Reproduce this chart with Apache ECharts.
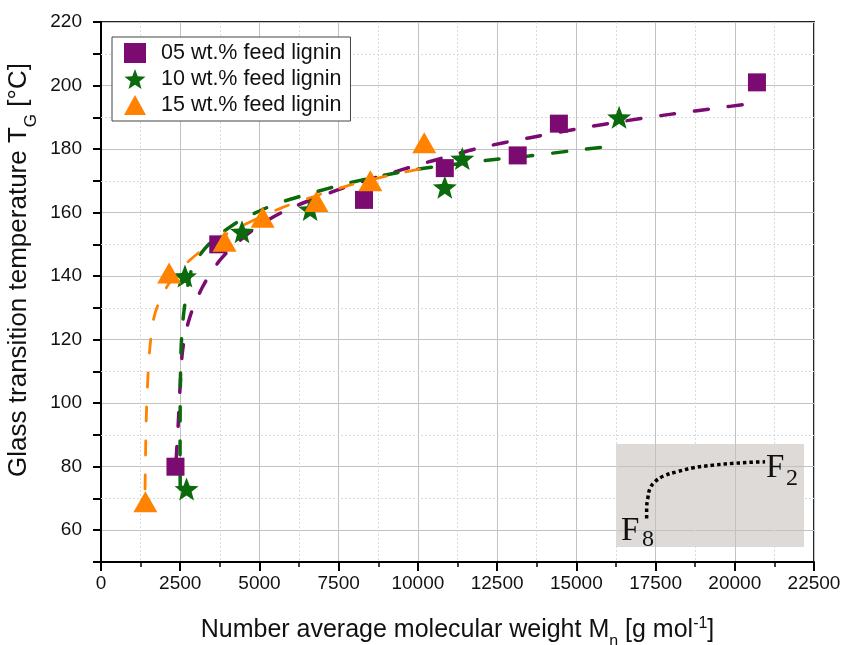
<!DOCTYPE html>
<html>
<head>
<meta charset="utf-8">
<script src="https://cdn.jsdelivr.net/npm/echarts@6/dist/echarts.min.js"></script>
<style>
  html, body { margin: 0; padding: 0; background: #fff; }
  #chart { width: 845px; height: 645px; }
</style>
</head>
<body>
<div id="chart"></div>
<script>
  // series names
  const seriesNames = ['05 wt.% feed lignin', '10 wt.% feed lignin', '15 wt.% feed lignin']

  // measured points
  const mn05 = [2350, 3700, 8300, 10850, 13150, 14450, 20700]
  const tg05 = [80, 150, 164, 174, 178, 188, 201]
  const mn10 = [2700, 2650, 4450, 6600, 10850, 11400, 16350]
  const tg10 = [73, 140, 154, 161, 168, 177, 190]
  const mn15 = [1400, 2150, 3900, 5100, 6800, 8500, 10200]
  const tg15 = [69, 141, 151, 158.5, 163.5, 170, 182]

  // fitted curves
  const fitMn05 = [2370, 2440, 2495, 2580, 2800, 3200, 3750, 4300, 5000, 5900, 6900, 8000, 9000, 10000, 11000, 12000, 13500, 15000, 16500, 18000, 19500, 20300]
  const fitTg05 = [82, 94, 105, 117, 127, 136.5, 145, 150.5, 156, 161, 165, 169, 172, 175, 177.8, 180.5, 183.5, 186.3, 188.8, 191, 193, 194]
  const fitMn10 = [2500, 2495, 2500, 2520, 2560, 2630, 2800, 3000, 3500, 4300, 5000, 5600, 6600, 7700, 8800, 9900, 11000, 12200, 13500, 14800, 16000]
  const fitTg10 = [73, 85, 100, 115, 123, 130, 140, 145, 151, 157, 160.5, 163, 166, 169, 171.5, 173.5, 175, 176.5, 177.8, 179.4, 180.8]
  const fitMn15 = [1390, 1400, 1420, 1460, 1530, 1650, 1800, 2100, 2400, 2800, 3300, 4000, 4800, 5700, 6700, 7800, 9000, 10200]
  const fitTg15 = [73, 80, 92, 104, 116, 126, 131, 137, 141, 145, 149, 153.5, 157.5, 161.5, 165, 168.5, 171.5, 174]

  // inset sketch (relative units 0..100)
  const insetX = [16.3, 16.3, 16.9, 18.1, 20.7, 25.2, 32.3, 41.1, 51.8, 62.4, 71.3, 79.3]
  const insetY = [27.7, 37.4, 47.1, 56.9, 63.3, 68.9, 73.0, 76.9, 79.5, 81.2, 82.2, 82.7]

  // axis ticks
  const yMinorTicks = [70, 90, 110, 130, 150, 170, 190, 210]

  const colors = ['#7b0a71', '#0b6a0b', '#ff8200']
  const starPath = 'path://M50 0 L62.34 33.01 L97.55 34.55 L69.97 56.49 L79.39 90.45 L50 71 L20.61 90.45 L30.03 56.49 L2.45 34.55 L37.66 33.01 Z'

  const zip = (xs, ys) => xs.map((x, i) => [x, ys[i]])

  const fitLine = (data, color, width) => ({
    type: 'line',
    data: data,
    smooth: 0.3,
    symbol: 'none',
    silent: true,
    z: 3,
    lineStyle: { color: color, width: width, type: [14, 20], cap: 'round' }
  })

  const chart = echarts.init(document.getElementById('chart'))

  const serifFont = '"Liberation Serif", "DejaVu Serif", serif'

  const option = {
    animation: false,
    textStyle: { fontFamily: 'Liberation Sans, Arial, sans-serif', color: '#111' },
    grid: [
      { left: 101, right: 31, top: 22, bottom: 83, show: true, borderColor: '#222', borderWidth: 2, outerBoundsMode: 'none', containLabel: false },
      { left: 616, top: 444, width: 188, height: 103, show: true, backgroundColor: 'rgba(190,182,178,0.5)', borderWidth: 0, z: -1, outerBoundsMode: 'none' }
    ],
    legend: {
      orient: 'vertical',
      left: 112,
      top: 37,
      padding: [5, 9, 5, 12],
      itemGap: 4,
      itemWidth: 22,
      itemHeight: 20,
      borderColor: '#444',
      borderWidth: 1,
      backgroundColor: '#fff',
      textStyle: { fontSize: 21.5, color: '#111', padding: [0, 0, 0, 10] },
      data: seriesNames
    },
    xAxis: [
      {
        type: 'value',
        min: 0,
        max: 22500,
        interval: 2500,
        name: 'Number average molecular weight M{sub|n} [g mol{sup|-1}]',
        nameLocation: 'middle',
        nameGap: 54,
        nameTextStyle: {
          fontSize: 25, color: '#111', lineHeight: 28,
          rich: {
            sub: { fontSize: 16, verticalAlign: 'bottom', lineHeight: 14, padding: [0, 0, -6, 0] },
            sup: { fontSize: 16, verticalAlign: 'top', lineHeight: 14, padding: [0, 0, 8, 0] }
          }
        },
        axisLine: { lineStyle: { color: '#000', width: 2 } },
        axisTick: { inside: false, length: 9, lineStyle: { color: '#000', width: 2 } },
        minorTick: { show: true, splitNumber: 2, length: 5, lineStyle: { color: '#000', width: 1.5 } },
        axisLabel: { fontSize: 19, color: '#111', margin: 12, formatter: v => String(v) },
        splitLine: { show: true, lineStyle: { color: '#c2c2c2', width: 1 } },
        minorSplitLine: { show: true, lineStyle: { color: '#dadada', width: 1, type: [2, 2] } }
      },
      { gridIndex: 1, type: 'value', min: 0, max: 100, show: false }
    ],
    yAxis: [
      {
        type: 'value',
        min: 50,
        max: 220,
        interval: 10,
        name: 'Glass transition temperature T{sub|G} [°C]',
        nameLocation: 'middle',
        nameGap: 52,
        nameTextStyle: {
          fontSize: 26, color: '#111', lineHeight: 30, padding: [0, 0, 0, 44],
          rich: {
            sub: { fontSize: 17, verticalAlign: 'bottom', lineHeight: 14, padding: [0, 0, -6, 0] }
          }
        },
        axisLine: { lineStyle: { color: '#000', width: 2 } },
        axisTick: { inside: false, length: 8, lineStyle: { color: '#000', width: 2 } },
        axisLabel: {
          fontSize: 19, color: '#111', margin: 19,
          formatter: v => (v % 20 === 0 ? String(v) : '')
        },
        splitLine: { show: true, lineStyle: { color: ['rgba(0,0,0,0)', '#c2c2c2'], width: 1 } }
      },
      { gridIndex: 1, type: 'value', min: 0, max: 100, show: false }
    ],
    graphic: [
      { type: 'text', left: 766, top: 452, z: 10, style: { text: 'F', font: '33px ' + serifFont, fill: '#111' } },
      { type: 'text', left: 786, top: 467, z: 10, style: { text: '2', font: '24px ' + serifFont, fill: '#111' } },
      { type: 'text', left: 621, top: 515, z: 10, style: { text: 'F', font: '33px ' + serifFont, fill: '#111' } },
      { type: 'text', left: 642, top: 528, z: 10, style: { text: '8', font: '24px ' + serifFont, fill: '#111' } }
    ],
    series: [
      {
        type: 'line',
        data: [],
        silent: true,
        z: 0,
        markLine: {
          silent: true,
          z: 1,
          symbol: 'none',
          label: { show: false },
          lineStyle: { color: '#dadada', width: 1, type: [2, 2] },
          data: yMinorTicks.map(v => ({ yAxis: v }))
        }
      },
      fitLine(zip(fitMn05, fitTg05), colors[0], 3.5),
      fitLine(zip(fitMn10, fitTg10), colors[1], 3.5),
      fitLine(zip(fitMn15, fitTg15), colors[2], 2.8),
      {
        name: seriesNames[0],
        type: 'scatter',
        data: zip(mn05, tg05),
        symbol: 'rect',
        symbolSize: 18,
        z: 4,
        itemStyle: { color: colors[0], opacity: 1 }
      },
      {
        name: seriesNames[1],
        type: 'scatter',
        data: zip(mn10, tg10),
        symbol: starPath,
        symbolSize: [24, 23],
        z: 5,
        itemStyle: { color: colors[1], opacity: 1 }
      },
      {
        name: seriesNames[2],
        type: 'scatter',
        data: zip(mn15, tg15),
        symbol: 'triangle',
        symbolSize: [24, 21],
        z: 6,
        itemStyle: { color: colors[2], opacity: 1 }
      },
      {
        type: 'line',
        xAxisIndex: 1,
        yAxisIndex: 1,
        data: zip(insetX, insetY),
        smooth: 0.4,
        symbol: 'none',
        silent: true,
        z: 7,
        lineStyle: { color: '#000', width: 3.5, type: [3.5, 3] }
      }
    ]
  }

  chart.setOption(option)

  window.addEventListener('resize', () => {
    chart.resize()
  })
</script>
</body>
</html>
